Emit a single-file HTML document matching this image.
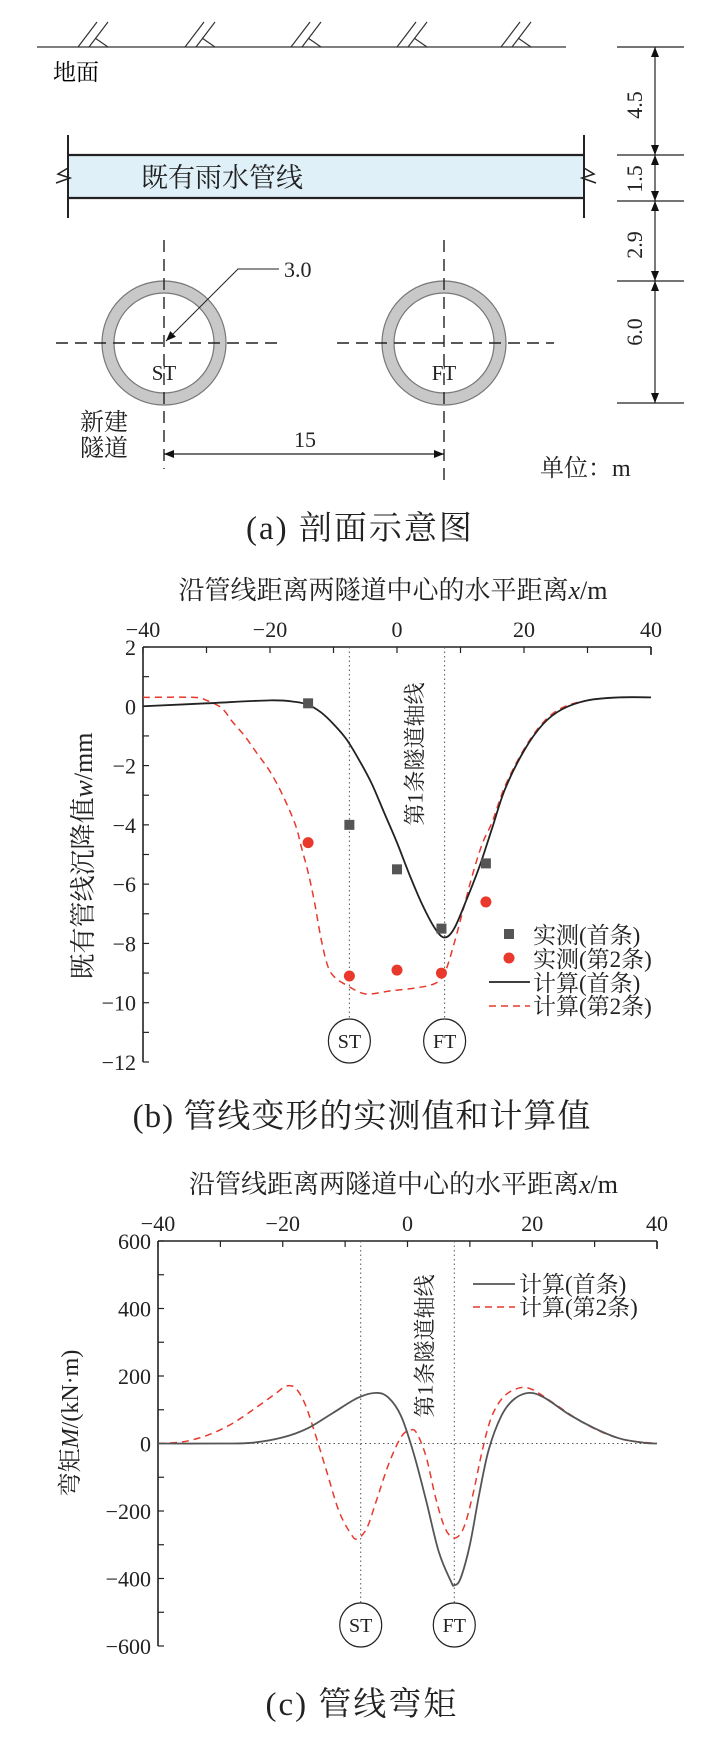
<!DOCTYPE html>
<html><head><meta charset="utf-8">
<style>
body{margin:0;background:#fff;}
svg{display:block;font-family:"Liberation Serif","Noto Serif CJK SC",serif;}
</style></head>
<body>
<svg width="725" height="1743" viewBox="0 0 725 1743" xmlns="http://www.w3.org/2000/svg">
<defs>
<marker id="arr" viewBox="0 0 10 10" refX="10" refY="5" markerWidth="10" markerHeight="10" orient="auto-start-reverse" markerUnits="userSpaceOnUse"><path d="M0,1 L10,5 L0,9 z" fill="#111"/></marker>
</defs>
<g id="panel-a">
<line x1="37" y1="47" x2="566" y2="47" stroke="#333" stroke-width="1.3"/>
<g id="hatches" stroke="#333" stroke-width="1.2" fill="none"></g>
<text x="53" y="80" font-size="23">地面</text>
<rect x="68" y="155" width="516" height="43" fill="#dff0f8"/>
<line x1="68" y1="155" x2="584" y2="155" stroke="#222" stroke-width="2.2"/>
<line x1="68" y1="198" x2="584" y2="198" stroke="#222" stroke-width="2.2"/>
<line x1="68" y1="135" x2="68" y2="218" stroke="#222" stroke-width="2"/>
<line x1="584" y1="135" x2="584" y2="218" stroke="#222" stroke-width="2"/>
<path d="M68,168 L58,174 L70,178 L56,183" stroke="#222" fill="none" stroke-width="1.5"/>
<path d="M584,168 L594,174 L582,178 L596,183" stroke="#222" fill="none" stroke-width="1.5"/>
<text x="141" y="187" font-size="27" fill="#222">既有雨水管线</text>
<g stroke="#222" stroke-width="1.2">
<line x1="617" y1="47" x2="684" y2="47"/><line x1="617" y1="155" x2="684" y2="155"/>
<line x1="617" y1="201" x2="684" y2="201"/><line x1="617" y1="281" x2="684" y2="281"/>
<line x1="617" y1="403" x2="684" y2="403"/>
<line x1="655" y1="47" x2="655" y2="155" marker-start="url(#arr)" marker-end="url(#arr)"/>
<line x1="655" y1="155" x2="655" y2="201" marker-start="url(#arr)" marker-end="url(#arr)"/>
<line x1="655" y1="201" x2="655" y2="281" marker-start="url(#arr)" marker-end="url(#arr)"/>
<line x1="655" y1="281" x2="655" y2="403" marker-start="url(#arr)" marker-end="url(#arr)"/>
</g>
<g font-size="22" fill="#222" text-anchor="middle">
<text transform="translate(642,105) rotate(-90)">4.5</text>
<text transform="translate(642,179) rotate(-90)">1.5</text>
<text transform="translate(642,245) rotate(-90)">2.9</text>
<text transform="translate(642,332) rotate(-90)">6.0</text>
</g>
<g>
<circle cx="164" cy="343" r="56" fill="none" stroke="#c8c8c8" stroke-width="12"/>
<circle cx="164" cy="343" r="62" fill="none" stroke="#777" stroke-width="1.2"/>
<circle cx="164" cy="343" r="50" fill="none" stroke="#777" stroke-width="1.2"/>
</g>
<g>
<circle cx="444" cy="343" r="56" fill="none" stroke="#c8c8c8" stroke-width="12"/>
<circle cx="444" cy="343" r="62" fill="none" stroke="#777" stroke-width="1.2"/>
<circle cx="444" cy="343" r="50" fill="none" stroke="#777" stroke-width="1.2"/>
</g>
<g stroke="#222" stroke-width="1.4" stroke-dasharray="12,7">
<line x1="56" y1="343" x2="277" y2="343"/><line x1="337" y1="343" x2="554" y2="343"/>
<line x1="164" y1="240" x2="164" y2="469"/><line x1="444" y1="240" x2="444" y2="484"/>
</g>
<path d="M279,269 L238,269 L166,341" stroke="#222" fill="none" stroke-width="1" marker-end="url(#arr)"/>
<text x="284" y="277" font-size="22" fill="#222">3.0</text>
<text x="164" y="380" font-size="21" fill="#222" text-anchor="middle">ST</text>
<text x="444" y="380" font-size="21" fill="#222" text-anchor="middle">FT</text>
<text x="104" y="430" font-size="24" fill="#222" text-anchor="middle">新建</text>
<text x="104" y="456" font-size="24" fill="#222" text-anchor="middle">隧道</text>
<line x1="164" y1="454" x2="444" y2="454" stroke="#222" stroke-width="1.2" marker-start="url(#arr)" marker-end="url(#arr)"/>
<text x="305" y="447" font-size="22" fill="#222" text-anchor="middle">15</text>
<text x="540" y="476" font-size="24" fill="#222">单位：m</text>
<text x="360" y="539" font-size="33" fill="#222" text-anchor="middle" letter-spacing="2">(a) 剖面示意图</text>
</g>
<g id="chartB"></g>
<g id="chartC"></g>
</svg>
<script>
const NS="http://www.w3.org/2000/svg";
// ---- Chart B data ----
const bXTicks=[-40,-20,0,20,40];
const bYTicks=[2,0,-2,-4,-6,-8,-10,-12];
const measX=[-14,-7.5,0,7,14];
const meas1=[0.1,-4.0,-5.5,-7.5,-5.3];
const meas2=[-4.6,-9.1,-8.9,-9.0,-6.6];
const calc1X=[-40,-30,-20,-16,-14,-12,-10,-8,-6,-4,-2,0,2,4,6,7.5,9,11,13,15,17,20,23,26,30,35,40];
const calc1Y=[0,0.1,0.2,0.15,0.05,-0.2,-0.6,-1.1,-1.8,-2.6,-3.6,-4.6,-5.7,-6.7,-7.5,-7.8,-7.5,-6.5,-5.4,-4.1,-2.8,-1.5,-0.6,-0.1,0.2,0.3,0.3];
const calc2X=[-40,-32,-30,-28,-27,-26,-24,-22,-20,-18,-16,-15,-14,-13,-12,-11,-10,-8,-5,-1,3,6,7.5,9,10.5,12,13.5,15,17,20,23,26,30,35,40];
const calc2Y=[0.3,0.3,0.2,0,-0.2,-0.5,-1.0,-1.6,-2.2,-3.0,-4.0,-4.8,-5.6,-6.6,-7.8,-8.7,-9.1,-9.4,-9.7,-9.6,-9.5,-9.35,-9.0,-8.0,-6.8,-5.6,-4.6,-3.9,-2.7,-1.45,-0.55,-0.05,0.2,0.3,0.3];
// ---- Chart C data ----
const cXTicks=[-40,-20,0,20,40];
const cYTicks=[600,400,200,0,-200,-400,-600];
const m1X=[-40,-30,-25,-20,-16,-12,-8,-5,-3,-1,1,3,5,7,7.5,8.5,10,11.5,13,15,17,19.5,22,26,30,34,38,40];
const m1Y=[0,0,2,18,45,90,135,150,135,80,-30,-170,-320,-410,-420,-400,-300,-150,-20,80,130,150,135,85,45,15,2,0];
const m2X=[-40,-36,-32,-28,-24,-21,-19.5,-18,-16.5,-15,-13,-11,-9,-8,-6.5,-5,-3,-1,0.5,1.5,3,4.5,6,7.5,9,10.5,12,13.5,15.5,18,20,23,27,31,35,40];
const m2Y=[0,5,25,60,110,150,170,165,120,40,-80,-200,-270,-282,-250,-170,-60,20,40,30,-40,-160,-250,-280,-250,-150,-20,80,140,165,160,125,75,35,10,0];

function el(tag,attrs,parent,txt){const e=document.createElementNS(NS,tag);for(const k in attrs)e.setAttribute(k,attrs[k]);if(txt!==undefined)e.textContent=txt;parent.appendChild(e);return e;}
function smooth(pts){let d="M"+pts[0][0]+","+pts[0][1];for(let i=0;i<pts.length-1;i++){const p0=pts[i-1]||pts[i],p1=pts[i],p2=pts[i+1],p3=pts[i+2]||p2;const c1=[p1[0]+(p2[0]-p0[0])/6,p1[1]+(p2[1]-p0[1])/6],c2=[p2[0]-(p3[0]-p1[0])/6,p2[1]-(p3[1]-p1[1])/6];d+=" C"+c1+" "+c2+" "+p2;}return d;}
const hg=document.getElementById('hatches');
[92,199,305,411,515].forEach(x=>{el('path',{d:`M${x-14},47 L${x+5},22 M${x-3},47 L${x+16},22 M${x+3},38 L${x+16},47`},hg);});

function chart(g,o){
  const X=v=>o.L+(v-o.x0)/(o.x1-o.x0)*(o.R-o.L);
  const Y=v=>o.T+(o.y0-v)/(o.y0-o.y1)*(o.B-o.T);
  el('line',{x1:o.L,y1:o.T,x2:o.R,y2:o.T,stroke:'#222','stroke-width':1.6},g);
  el('line',{x1:o.L,y1:o.T,x2:o.L,y2:o.B,stroke:'#222','stroke-width':1.6},g);
  el('line',{x1:o.R,y1:o.T,x2:o.R,y2:o.T+8,stroke:'#222','stroke-width':1.6},g);
  for(let v=o.x0;v<=o.x1;v+=10){el('line',{x1:X(v),y1:o.T,x2:X(v),y2:o.T+6,stroke:'#222','stroke-width':1.2},g);}
  for(let v=o.y1;v<=o.y0+1e-9;v+=o.yminor){el('line',{x1:o.L,y1:Y(v),x2:o.L+6,y2:Y(v),stroke:'#222','stroke-width':1.2},g);}
  o.xt.forEach(v=>{const t=el('text',{x:X(v),y:o.T-10,'font-size':22,'text-anchor':'middle',fill:'#222'},g,v<0?'\u2212'+(-v):String(v));
    
    });
  o.yt.forEach(v=>{const t=el('text',{x:o.L-7,y:Y(v)+8,'font-size':22,'text-anchor':'end',fill:'#222'},g,v<0?'\u2212'+(-v):String(v));
    
    });
  const xt=el('text',{x:(o.L+o.R)/2-4,y:o.T-48,'font-size':26,'text-anchor':'middle',fill:'#222'},g);
  xt.innerHTML='沿管线距离两隧道中心的水平距离<tspan font-style="italic">x</tspan>/m';
  
  
  const yt=el('text',{transform:`translate(${o.ytx},${o.yty}) rotate(-90)`,'font-size':o.ytfs,'text-anchor':'middle',fill:'#222'},g);
  yt.innerHTML=o.ytitle;
  
  
  [-7.5,7.5].forEach((v,i)=>{el('line',{x1:X(v),y1:o.T,x2:X(v),y2:o.cy-22,stroke:'#555','stroke-width':1,'stroke-dasharray':'1.5,3'},g);
    const c=el('ellipse',{cx:X(v),cy:o.cy,rx:21,ry:22,fill:'#fff',stroke:'#222','stroke-width':1.2},g);
    
    
    el('text',{x:X(v),y:o.cy+7,'font-size':20,'text-anchor':'middle',fill:'#222'},g,i?'FT':'ST');});
  const ax=el('text',{transform:`translate(${X(7.5)-22},${o.axy}) rotate(-90)`,'font-size':22,'text-anchor':'middle',fill:'#222'},g,'第1条隧道轴线');
  
  
  return {X,Y};
}
const gb=document.getElementById('chartB');
const b=chart(gb,{L:143,R:651,T:647,B:1062,x0:-40,x1:40,y0:2,y1:-12,yminor:1,xt:bXTicks,yt:bYTicks,cy:1041,axy:754,ytx:92,yty:856,ytfs:26,ytitle:'既有管线沉降值<tspan font-style="italic">w</tspan>/mm'});
const p2=el('path',{d:smooth(calc2X.map((x,i)=>[b.X(x),b.Y(calc2Y[i])])),fill:'none',stroke:'#e8392c','stroke-width':1.5,'stroke-dasharray':'7,5'},gb);


const p1=el('path',{d:smooth(calc1X.map((x,i)=>[b.X(x),b.Y(calc1Y[i])])),fill:'none',stroke:'#222','stroke-width':1.8},gb);


measX.forEach((x,i)=>{const r=el('rect',{x:b.X(x)-5,y:b.Y(meas1[i])-5,width:10,height:10,fill:'#555'},gb);
  
  
  const c=el('circle',{cx:b.X(x),cy:b.Y(meas2[i]),r:5.5,fill:'#e8392c'},gb);
  
  });
const lb=el('g',{},gb);


el('rect',{x:504,y:929,width:10,height:10,fill:'#555'},lb);
el('circle',{cx:509,cy:958,r:5.5,fill:'#e8392c'},lb);
el('line',{x1:489,y1:982,x2:530,y2:982,stroke:'#222','stroke-width':1.8},lb);
el('line',{x1:489,y1:1006,x2:530,y2:1006,stroke:'#e8392c','stroke-width':1.5,'stroke-dasharray':'7,5'},lb);
['实测(首条)','实测(第2条)','计算(首条)','计算(第2条)'].forEach((s,i)=>{el('text',{x:533,y:[943,967,991,1014][i],'font-size':23,fill:'#222'},lb,s);});
const cb=el('text',{x:362,y:1127,'font-size':33,'text-anchor':'middle',fill:'#222','letter-spacing':1},gb,'(b) 管线变形的实测值和计算值');


const gc=document.getElementById('chartC');
const c=chart(gc,{L:158,R:657,T:1241,B:1646,x0:-40,x1:40,y0:600,y1:-600,yminor:100,xt:cXTicks,yt:cYTicks,cy:1625,axy:1346,ytx:78,yty:1423,ytfs:24,ytitle:'弯矩<tspan font-style="italic">M</tspan>/(kN·m)'});
el('line',{x1:158,y1:c.Y(0),x2:657,y2:c.Y(0),stroke:'#555','stroke-width':1,'stroke-dasharray':'1.5,3'},gc);
const q2=el('path',{d:smooth(m2X.map((x,i)=>[c.X(x),c.Y(m2Y[i])])),fill:'none',stroke:'#e8392c','stroke-width':1.5,'stroke-dasharray':'7,5'},gc);


const q1=el('path',{d:smooth(m1X.map((x,i)=>[c.X(x),c.Y(m1Y[i])])),fill:'none',stroke:'#555','stroke-width':1.8},gc);


const lc=el('g',{},gc);


el('line',{x1:473,y1:1284,x2:515,y2:1284,stroke:'#555','stroke-width':1.8},lc);
el('line',{x1:473,y1:1307,x2:515,y2:1307,stroke:'#e8392c','stroke-width':1.5,'stroke-dasharray':'7,5'},lc);
el('text',{x:519,y:1292,'font-size':23,fill:'#222'},lc,'计算(首条)');
el('text',{x:519,y:1315,'font-size':23,fill:'#222'},lc,'计算(第2条)');
const cc=el('text',{x:362,y:1715,'font-size':33,'text-anchor':'middle',fill:'#222','letter-spacing':2},gc,'(c) 管线弯矩');


</script>
</body></html>
